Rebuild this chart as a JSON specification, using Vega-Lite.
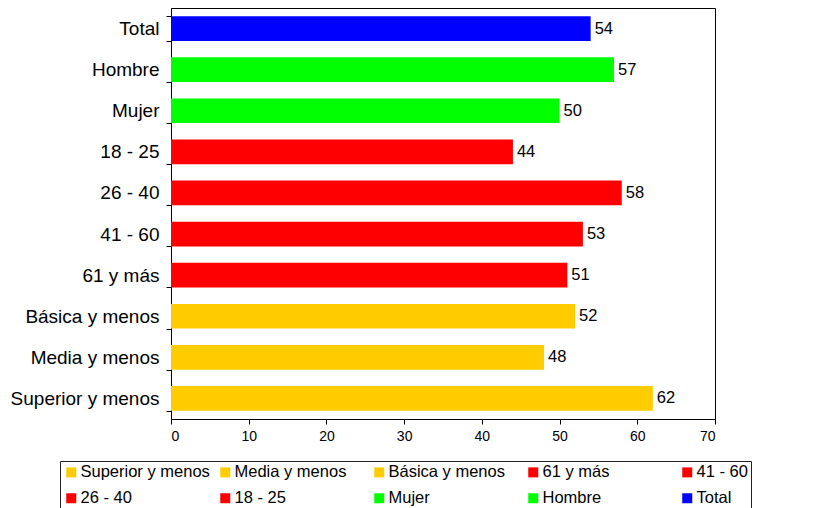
{
  "$schema": "https://vega.github.io/schema/vega-lite/v6.json",
  "width": 544,
  "height": 411,
  "autosize": {"type": "none"},
  "padding": {"left": 171, "top": 8, "right": 100, "bottom": 89},
  "background": "white",
  "config": {
    "font": "Liberation Sans",
    "view": {"stroke": "#000", "strokeWidth": 1}
  },
  "data": {
    "values": [
      {"cat": "Total", "value": 54},
      {"cat": "Hombre", "value": 57},
      {"cat": "Mujer", "value": 50},
      {"cat": "18 - 25", "value": 44},
      {"cat": "26 - 40", "value": 58},
      {"cat": "41 - 60", "value": 53},
      {"cat": "61 y más", "value": 51},
      {"cat": "Básica y menos", "value": 52},
      {"cat": "Media y menos", "value": 48},
      {"cat": "Superior y menos", "value": 62}
    ]
  },
  "encoding": {
    "y": {
      "field": "cat",
      "type": "nominal",
      "sort": null,
      "scale": {"paddingInner": 0.4, "paddingOuter": 0.2},
      "axis": {
        "title": null,
        "tickBand": "extent",
        "labelFontSize": 19,
        "labelColor": "#000",
        "labelPadding": 7,
        "tickSize": 5,
        "tickColor": "#000",
        "domainColor": "#000",
        "labelLimit": 300
      }
    },
    "x": {
      "field": "value",
      "type": "quantitative",
      "scale": {"domain": [0, 70], "nice": false},
      "axis": {
        "title": null,
        "values": [0, 10, 20, 30, 40, 50, 60, 70],
        "grid": false,
        "labelFontSize": 14,
        "labelColor": "#000",
        "labelPadding": 5,
        "tickSize": 5,
        "tickColor": "#000",
        "domainColor": "#000"
      }
    }
  },
  "layer": [
    {
      "mark": {"type": "bar"},
      "encoding": {
        "color": {
          "field": "cat",
          "type": "nominal",
          "scale": {
            "domain": ["Superior y menos", "Media y menos", "Básica y menos", "61 y más", "41 - 60", "26 - 40", "18 - 25", "Mujer", "Hombre", "Total"],
            "range": ["#FFCC00", "#FFCC00", "#FFCC00", "#FF0000", "#FF0000", "#FF0000", "#FF0000", "#00FF00", "#00FF00", "#0000FF"]
          },
          "legend": {
            "title": null,
            "orient": "none",
            "legendX": -111,
            "legendY": 453,
            "direction": "horizontal",
            "columns": 5,
            "gridAlign": "all",
            "columnPadding": 7,
            "rowPadding": 9,
            "padding": 3,
            "strokeColor": "#222",
            "symbolType": "square",
            "symbolSize": 100,
            "symbolStrokeWidth": 0,
            "symbolOpacity": 1,
            "labelFontSize": 16.5,
            "labelColor": "#000",
            "labelOffset": 1,
            "labelLimit": 300
          }
        }
      }
    },
    {
      "mark": {"type": "text", "align": "left", "dx": 4, "fontSize": 16.5, "color": "#000"},
      "encoding": {"text": {"field": "value", "type": "quantitative"}}
    }
  ]
}
